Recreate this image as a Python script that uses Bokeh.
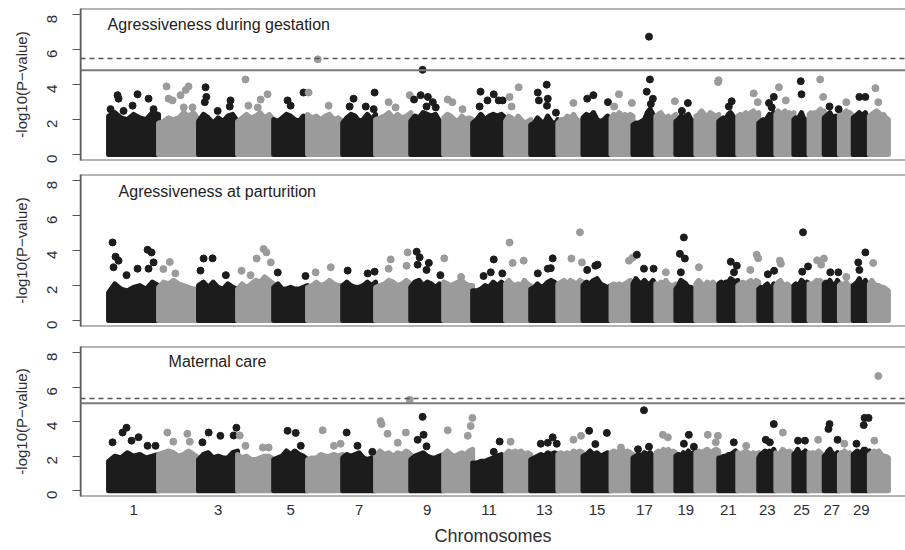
import math
import numpy as np
from bokeh.plotting import figure
from bokeh.layouts import column
from bokeh.models import Range1d, FixedTicker, Span, Label, ColumnDataSource
from bokeh.embed import file_html
from bokeh.resources import INLINE

# ---------------- data ----------------
chromosomes = list(range(1, 31))
chrom_len_mb = [155, 124, 121, 112, 105, 109, 102, 109, 102, 90,
                102, 78, 84, 78, 87, 68, 71, 62, 62, 71,
                59, 65, 53, 56, 47, 47, 47, 43, 50, 59]
tick_chroms = [1, 3, 5, 7, 9, 11, 13, 15, 17, 19, 21, 23, 25, 27, 29]

panel_titles = ["Agressiveness during gestation",
                "Agressiveness at parturition",
                "Maternal care"]

# relative positions (within chromosome) where the top of the dense SNP cloud was read
cloud_rel_pos = [0.0, 0.125, 0.25, 0.375, 0.5, 0.625, 0.75, 0.875, 1.0]

# upper edge of the dense cloud of -log10(P) per chromosome
gest_cloud = [
    [2.2, 2.4, 2.1, 2.0, 2.3, 2.1, 2.0, 2.4, 2.3], [1.8, 1.9, 2.1, 2.0, 2.1, 2.4, 2.2, 2.4, 2.0],
    [1.9, 2.3, 2.1, 1.8, 2.1, 1.9, 2.2, 2.3, 1.9], [1.9, 2.1, 2.3, 2.1, 2.2, 2.4, 2.1, 2.3, 2.0],
    [2.0, 1.9, 2.1, 2.3, 2.2, 2.0, 1.9, 2.2, 2.1], [2.3, 2.1, 2.2, 2.0, 2.2, 2.3, 2.0, 2.1, 1.9],
    [1.8, 2.1, 2.3, 2.2, 1.9, 2.0, 2.3, 2.0, 2.3], [2.0, 2.1, 2.2, 2.4, 2.1, 2.3, 2.1, 2.2, 2.4],
    [1.9, 2.2, 2.1, 2.4, 2.3, 2.2, 2.3, 1.9, 1.8], [2.1, 2.3, 2.2, 2.0, 1.9, 2.2, 2.0, 2.1, 2.0],
    [1.8, 2.0, 2.3, 2.0, 2.2, 2.3, 2.2, 2.3, 2.1], [1.9, 2.2, 2.1, 1.9, 2.2, 2.0, 1.8, 1.9, 2.0],
    [1.7, 1.8, 2.1, 1.9, 1.8, 2.2, 1.9, 1.7, 2.0], [1.8, 2.0, 2.0, 2.2, 2.1, 2.3, 2.0, 1.9, 2.0],
    [2.1, 2.3, 2.2, 2.4, 2.0, 1.9, 2.0, 2.2, 2.0], [2.1, 2.3, 2.2, 2.4, 2.2, 2.3, 2.2, 2.3, 2.2],
    [1.7, 1.8, 1.8, 1.9, 2.0, 2.4, 2.6, 2.3, 2.0], [2.2, 2.3, 2.4, 2.2, 2.1, 2.2, 2.0, 2.2, 2.3],
    [1.9, 2.0, 2.2, 2.1, 2.2, 2.3, 2.0, 1.9, 1.9], [2.2, 2.3, 2.5, 2.3, 2.2, 2.4, 2.3, 2.2, 2.3],
    [1.9, 2.0, 2.1, 2.0, 2.3, 2.4, 2.2, 2.0, 1.9], [2.2, 2.3, 2.2, 2.4, 2.3, 2.4, 2.5, 2.3, 2.4],
    [1.8, 1.9, 2.0, 1.9, 2.1, 2.3, 2.2, 2.4, 2.1], [2.3, 2.5, 2.3, 2.4, 2.5, 2.3, 2.4, 2.3, 2.4],
    [2.0, 2.1, 2.0, 2.2, 2.4, 2.1, 2.0, 1.9, 1.9], [2.3, 2.4, 2.3, 2.4, 2.3, 2.5, 2.6, 2.4, 2.5],
    [2.1, 2.2, 2.3, 2.4, 2.2, 2.1, 2.2, 2.1, 2.3], [2.3, 2.4, 2.3, 2.4, 2.5, 2.3, 2.4, 2.3, 2.2],
    [2.1, 2.2, 2.3, 2.4, 2.2, 2.3, 2.4, 2.1, 2.0], [2.2, 2.3, 2.4, 2.5, 2.4, 2.2, 2.3, 2.1, 2.0],
]
part_cloud = [
    [1.6, 2.1, 1.8, 1.7, 1.9, 2.0, 1.8, 2.2, 2.0], [1.9, 2.2, 2.1, 2.3, 2.1, 2.0, 1.9, 1.8, 1.8],
    [2.0, 2.2, 1.9, 2.2, 1.9, 1.8, 2.1, 1.9, 1.8], [1.8, 2.1, 1.9, 2.1, 2.3, 2.2, 2.5, 2.3, 2.1],
    [1.9, 2.1, 1.8, 1.8, 1.9, 1.8, 1.8, 1.9, 2.0], [1.9, 2.0, 2.2, 2.0, 2.1, 2.3, 2.1, 2.0, 2.0],
    [2.0, 2.2, 2.0, 1.9, 1.9, 2.0, 2.2, 2.0, 2.2], [1.9, 2.0, 2.1, 2.3, 2.2, 2.0, 2.1, 2.3, 2.1],
    [1.9, 2.2, 2.3, 2.0, 2.2, 2.1, 1.9, 2.1, 1.9], [2.2, 2.1, 2.0, 2.1, 2.2, 2.3, 2.1, 2.0, 2.0],
    [1.7, 1.7, 1.8, 2.0, 1.9, 2.2, 2.0, 2.2, 2.0], [2.1, 2.3, 2.1, 2.0, 2.1, 2.0, 2.3, 2.1, 2.0],
    [1.8, 1.9, 2.1, 1.9, 2.0, 2.2, 2.3, 2.2, 1.9], [2.1, 2.2, 2.3, 2.1, 2.3, 2.2, 2.1, 2.3, 2.2],
    [2.0, 2.2, 2.1, 2.3, 2.4, 2.1, 2.0, 1.9, 2.0], [2.0, 2.1, 2.0, 2.1, 2.0, 2.1, 2.2, 2.3, 2.2],
    [2.1, 2.4, 2.2, 2.1, 2.3, 2.1, 2.1, 2.3, 2.0], [2.1, 2.0, 2.2, 2.1, 2.3, 2.1, 2.0, 2.0, 2.1],
    [1.8, 2.0, 2.3, 2.2, 2.1, 1.9, 1.9, 1.8, 1.9], [2.1, 2.3, 2.1, 2.0, 2.2, 2.1, 2.2, 2.0, 1.9],
    [2.1, 2.2, 2.1, 2.2, 2.2, 2.4, 2.3, 2.2, 2.3], [2.0, 2.1, 2.2, 2.1, 2.2, 2.3, 2.1, 2.3, 2.2],
    [1.8, 1.9, 1.8, 2.0, 2.1, 1.9, 1.8, 2.1, 1.9], [2.0, 2.2, 2.3, 2.1, 2.0, 2.1, 2.0, 1.9, 1.9],
    [2.0, 2.1, 2.0, 2.1, 2.3, 2.2, 2.0, 2.2, 2.1], [2.1, 2.0, 2.1, 2.2, 2.3, 2.1, 2.3, 2.1, 2.2],
    [2.1, 2.2, 2.1, 2.3, 2.1, 2.0, 2.1, 2.3, 2.1], [2.0, 2.1, 2.0, 2.1, 2.2, 2.0, 2.0, 1.9, 2.0],
    [2.0, 2.1, 2.2, 2.4, 2.1, 2.0, 2.3, 2.1, 2.0], [2.1, 2.3, 2.1, 2.0, 2.0, 1.9, 1.9, 1.8, 1.7],
]
care_cloud = [
    [1.7, 2.0, 1.9, 2.2, 2.0, 2.1, 1.9, 2.0, 2.1], [2.1, 2.2, 2.3, 2.2, 2.0, 2.1, 2.3, 2.1, 1.9],
    [1.8, 2.1, 2.2, 1.9, 2.0, 1.9, 1.9, 2.2, 2.3], [2.1, 1.9, 2.0, 1.8, 1.8, 1.9, 2.0, 2.0, 1.8],
    [1.8, 1.9, 2.0, 2.3, 2.1, 2.3, 2.1, 2.0, 1.8], [1.8, 1.9, 1.9, 2.1, 2.0, 2.0, 2.1, 2.0, 2.1],
    [1.9, 2.1, 2.0, 2.1, 2.2, 1.9, 1.8, 1.9, 1.7], [2.0, 2.3, 2.1, 2.2, 2.0, 2.2, 2.1, 2.3, 2.1],
    [1.8, 2.0, 2.1, 2.2, 2.0, 1.9, 1.9, 2.0, 2.1], [2.1, 2.3, 2.1, 2.0, 2.1, 2.2, 2.1, 2.3, 2.4],
    [1.6, 1.6, 1.7, 1.7, 1.8, 1.9, 2.0, 2.1, 1.9], [2.1, 2.3, 2.2, 2.3, 2.2, 2.3, 2.1, 2.2, 2.1],
    [1.8, 1.9, 2.0, 2.1, 2.0, 2.2, 2.1, 2.2, 2.1], [2.1, 2.2, 2.1, 2.2, 2.1, 2.3, 2.2, 2.3, 2.2],
    [2.0, 2.1, 2.3, 2.1, 2.2, 2.0, 2.1, 2.2, 2.0], [2.2, 2.3, 2.2, 2.3, 2.4, 2.2, 2.3, 2.2, 2.1],
    [1.9, 2.0, 2.1, 2.0, 2.2, 2.1, 2.2, 2.0, 2.0], [2.2, 2.3, 2.2, 2.4, 2.3, 2.4, 2.2, 2.3, 2.2],
    [2.0, 2.1, 2.0, 2.2, 2.1, 2.3, 2.1, 2.2, 2.0], [2.2, 2.3, 2.2, 2.3, 2.4, 2.2, 2.3, 2.4, 2.3],
    [1.9, 1.9, 2.0, 2.0, 2.1, 2.1, 2.2, 2.3, 2.1], [2.2, 2.1, 2.2, 2.3, 2.2, 2.1, 2.2, 2.1, 2.2],
    [1.9, 2.1, 2.2, 2.3, 2.2, 2.3, 2.2, 2.4, 2.1], [2.2, 2.1, 2.2, 2.4, 2.3, 2.2, 2.3, 2.2, 2.1],
    [2.1, 2.2, 2.4, 2.2, 2.1, 2.2, 2.3, 2.1, 2.1], [2.2, 2.1, 2.2, 2.1, 2.2, 2.3, 2.2, 2.1, 2.0],
    [2.0, 2.1, 2.3, 2.4, 2.2, 2.1, 2.1, 2.2, 2.0], [2.1, 2.2, 2.1, 2.3, 2.2, 2.1, 2.2, 2.1, 2.1],
    [2.1, 2.2, 2.3, 2.2, 2.2, 2.4, 2.4, 2.2, 2.3], [2.1, 2.2, 2.3, 2.2, 2.3, 2.1, 2.0, 2.0, 1.9],
]

# SNPs standing above the cloud: relative position in chromosome and -log10(P)
gest_hit_pos = [
    [0.04, 0.18, 0.2, 0.3, 0.48, 0.58, 0.8, 0.9], [0.2, 0.25, 0.35, 0.55, 0.68, 0.75, 0.63, 0.85],
    [0.18, 0.2, 0.16, 0.82, 0.8, 0.49], [0.22, 0.83, 0.64, 0.3, 0.56], [0.41, 0.5, 0.88],
    [0.03, 0.29, 0.6], [0.33, 0.21, 0.7, 0.97, 0.94], [0.37, 0.57, 0.97],
    [0.36, 0.1, 0.3, 0.52, 0.67, 0.48, 0.76], [0.14, 0.3, 0.65],
    [0.24, 0.64, 0.45, 0.21, 0.79, 0.91], [0.52, 0.16, 0.24],
    [0.59, 0.26, 0.63, 0.3, 0.6, 0.93], [0.62], [0.15, 0.37, 0.89],
    [0.36, 0.95, 0.14], [0.7, 0.74, 0.6, 0.87, 0.78], [0.95], [0.6, 0.3], [0.97, 0.99],
    [0.68, 0.53], [0.76, 0.95], [0.88, 0.6, 0.76], [0.17, 0.55], [0.45, 0.5],
    [0.73, 0.93], [0.35, 0.95], [0.5], [0.38, 0.75], [0.32, 0.47],
]
gest_hit_val = [
    [2.6, 3.4, 3.2, 2.5, 2.8, 3.45, 3.2, 2.6], [3.9, 3.2, 3.1, 3.4, 3.7, 3.9, 2.7, 2.7],
    [3.85, 3.3, 3.0, 3.1, 2.75, 2.5], [4.3, 3.45, 3.15, 2.8, 2.7], [3.1, 2.8, 3.55],
    [3.55, 5.45, 2.8], [3.2, 2.75, 2.75, 3.55, 2.6], [3.0, 2.7, 3.4],
    [4.85, 3.15, 3.4, 3.3, 3.0, 2.75, 2.7], [3.15, 3.0, 2.6],
    [3.6, 3.45, 3.1, 2.75, 3.1, 3.1], [3.85, 3.3, 2.75],
    [4.0, 3.55, 3.2, 3.1, 2.8, 2.4], [2.95], [3.2, 3.4, 3.0],
    [3.45, 2.95, 2.75], [6.75, 4.3, 3.6, 3.2, 2.9], [3.05], [2.95, 2.5], [4.15, 4.25],
    [3.05, 2.75], [3.5, 3.0], [3.3, 2.95, 2.7], [3.85, 3.1], [4.2, 3.45],
    [4.3, 3.3], [2.75, 2.6], [3.0], [3.3, 3.3], [3.8, 3.0],
]
part_hit_pos = [
    [0.08, 0.14, 0.2, 0.1, 0.78, 0.86, 0.9, 0.8, 0.58, 0.36], [0.28, 0.12, 0.42],
    [0.13, 0.36, 0.05, 0.7], [0.72, 0.8, 0.53, 0.92, 0.11, 0.36], [0.12, 0.94],
    [0.23, 0.66], [0.15, 0.76, 0.97], [0.43, 0.37, 0.91, 0.88],
    [0.18, 0.27, 0.21, 0.55, 0.48, 0.9], [0.02, 0.6], [0.64, 0.55, 0.9, 0.33],
    [0.16, 0.28, 0.72], [0.81, 0.74, 0.63, 0.26], [0.88, 0.54, 0.96], [0.15, 0.44, 0.52],
    [0.82, 0.98], [0.17, 0.48, 0.9], [0.5], [0.4, 0.2, 0.45, 0.25], [0.13],
    [0.63, 0.95, 0.8], [0.9, 0.97, 0.6], [0.53, 0.9], [0.22, 0.28], [0.6, 0.93, 0.55],
    [0.53, 0.8, 0.98], [0.4, 0.93], [0.5], [0.75, 0.31, 0.38], [0.2],
]
part_hit_val = [
    [4.47, 3.65, 3.43, 3.05, 4.05, 3.9, 3.33, 2.97, 2.97, 2.6], [3.35, 2.95, 2.7],
    [3.55, 3.56, 2.86, 2.6], [4.1, 3.9, 3.55, 3.33, 2.85, 2.6], [2.75, 2.55],
    [2.76, 3.05], [2.86, 2.7, 2.8], [3.5, 2.97, 3.9, 3.14],
    [3.94, 3.62, 3.2, 3.3, 2.9, 2.6], [3.56, 2.5], [3.5, 2.76, 2.7, 2.55],
    [4.47, 3.3, 3.43], [3.56, 3.0, 2.97, 2.7], [5.05, 3.55, 3.33], [2.9, 3.14, 3.2],
    [3.43, 3.6], [3.77, 2.97, 2.97], [2.76], [4.76, 3.82, 3.55, 2.76], [3.05],
    [3.37, 3.14, 2.76], [3.77, 3.56, 2.9], [2.65, 2.85], [3.43, 3.25], [5.05, 3.1, 2.8],
    [3.45, 3.2, 3.55], [2.76, 2.76], [2.5], [3.9, 3.33, 2.9], [3.3],
]
care_hit_pos = [
    [0.36, 0.28, 0.08, 0.6, 0.78, 0.94, 0.46], [0.22, 0.37, 0.72, 0.78],
    [0.26, 0.56, 0.1, 0.97, 0.9], [0.06, 0.22, 0.7, 0.86], [0.41, 0.65, 0.8],
    [0.43, 0.94, 0.75], [0.12, 0.45, 0.9], [0.14, 0.17, 0.34, 0.63, 0.86, 0.97],
    [0.36, 0.39, 0.21, 0.48], [0.14, 0.83, 0.93, 0.99], [0.82, 0.64], [0.2],
    [0.37, 0.63, 0.81, 0.96], [0.62, 0.92], [0.22, 0.85, 0.44], [0.45],
    [0.48, 0.7, 0.22], [0.35, 0.6], [0.65, 0.4, 0.9], [0.52, 0.96, 0.87], [0.79],
    [0.4], [0.88, 0.41, 0.65], [0.39], [0.27, 0.73], [0.6], [0.35, 0.28, 0.88],
    [0.36], [0.7, 0.95, 0.65, 0.2], [0.47, 0.26],
]
care_hit_val = [
    [3.65, 3.37, 2.8, 3.1, 2.6, 2.6, 2.9], [3.37, 2.84, 3.3, 2.84],
    [3.37, 3.18, 2.8, 3.65, 3.2], [3.2, 2.6, 2.5, 2.5], [3.47, 3.35, 2.6],
    [3.5, 2.72, 2.6], [3.37, 2.6, 2.25], [4.03, 3.86, 3.3, 2.78, 3.37, 5.27],
    [4.28, 3.24, 2.95, 2.57], [3.5, 3.18, 3.75, 4.22], [2.85, 2.25], [2.84],
    [2.72, 2.78, 3.09, 2.72], [2.95, 3.18], [3.47, 3.35, 2.7], [2.5],
    [4.66, 2.55, 2.4], [3.24, 3.09], [3.24, 2.72, 2.55], [3.24, 3.18, 2.8], [2.8],
    [2.6], [3.86, 2.95, 2.8], [3.37], [2.9, 2.9], [2.95], [3.86, 3.58, 2.95],
    [2.72], [4.22, 4.22, 3.8, 2.72], [6.65, 2.9],
]

# significance thresholds (-log10 P): (dashed, solid)
gest_thresholds = (5.5, 4.83)
part_thresholds = None
care_thresholds = (5.35, 5.07)

# ---------------- styling / layout ----------------
BLACK = "#1c1c1c"
GRAY = "#9b9b9b"
FRAME = "#6a6a6a"
TEXT = "#2e2e33"
FONT = "Liberation Sans"

lens = np.array(chrom_len_mb, dtype=float)
starts = np.concatenate([[0.0], np.cumsum(lens)[:-1]])
mids = starts + lens / 2.0
X_RANGE = (-87.0, 2471.0)
Y_RANGE = (-0.34, 8.36)


def make_panel(title, cloud, hit_pos, hit_val, thresholds, height, b_top, b_bottom,
               show_x, title_xy):
    p = figure(width=905, height=height, output_backend="svg", toolbar_location=None,
               x_range=Range1d(*X_RANGE), y_range=Range1d(*Y_RANGE),
               min_border_left=80, min_border_right=0, min_border_top=b_top,
               min_border_bottom=b_bottom)
    p.outline_line_color = None
    p.grid.visible = False
    p.background_fill_color = "white"
    p.border_fill_color = "white"

    # dense clouds + isolated SNPs
    xs, ys, cols = [], [], []
    px, py, pc = [], [], []
    for i, c in enumerate(chromosomes):
        col = BLACK if c % 2 == 1 else GRAY
        s, L = starts[i], lens[i]
        xs.append([s + r * L for r in cloud_rel_pos] + [s + L, s])
        ys.append(list(cloud[i]) + [0.0, 0.0])
        cols.append(col)
        for r, v in zip(hit_pos[i], hit_val[i]):
            px.append(s + r * L)
            py.append(v)
            pc.append(col)
    p.patches(xs="xs", ys="ys", fill_color="c", line_color="c", line_width=5,
              line_join="round",
              source=ColumnDataSource(dict(xs=xs, ys=ys, c=cols)))
    p.scatter(x="x", y="y", color="c", size=7,
              source=ColumnDataSource(dict(x=px, y=py, c=pc)))

    if thresholds is not None:
        p.add_layout(Span(location=thresholds[0], dimension="width", line_color="#555555",
                          line_width=1.5, line_dash="5 4"))
        p.add_layout(Span(location=thresholds[1], dimension="width", line_color="#7a7a7a",
                          line_width=2))

    # frame (top, bottom, left)
    for loc in Y_RANGE:
        p.add_layout(Span(location=loc, dimension="width", line_color=FRAME, line_width=2))
    p.add_layout(Span(location=X_RANGE[0], dimension="height", line_color=FRAME, line_width=2))

    p.add_layout(Label(x=title_xy[0], y=title_xy[1], text=title, text_font=FONT,
                       text_font_size="16px", text_color="#222222"))

    ya = p.yaxis[0]
    ya.ticker = FixedTicker(ticks=[0, 2, 4, 6, 8])
    ya.minor_tick_line_color = None
    ya.major_tick_out = 8
    ya.major_tick_in = 0
    ya.major_tick_line_color = "#555555"
    ya.axis_line_color = "#555555"
    ya.axis_line_width = 1.5
    ya.major_label_orientation = math.pi / 2
    ya.major_label_standoff = 20
    ya.major_label_text_font = FONT
    ya.major_label_text_font_size = "15px"
    ya.major_label_text_color = TEXT
    ya.axis_label = "-log10(P\u2212value)"
    ya.axis_label_text_font = FONT
    ya.axis_label_text_font_size = "15px"
    ya.axis_label_text_font_style = "normal"
    ya.axis_label_text_color = TEXT
    ya.axis_label_standoff = 10

    xa = p.xaxis[0]
    if show_x:
        xa.ticker = FixedTicker(ticks=[float(mids[c - 1]) for c in tick_chroms])
        xa.major_label_overrides = {float(mids[c - 1]): str(c) for c in tick_chroms}
        xa.axis_line_color = None
        xa.major_tick_line_color = None
        xa.minor_tick_line_color = None
        xa.major_tick_out = 0
        xa.major_tick_in = 0
        xa.major_label_standoff = 8
        xa.major_label_text_font = FONT
        xa.major_label_text_font_size = "15px"
        xa.major_label_text_color = TEXT
        xa.axis_label = "Chromosomes"
        xa.axis_label_text_font = FONT
        xa.axis_label_text_font_size = "18px"
        xa.axis_label_text_font_style = "normal"
        xa.axis_label_text_color = TEXT
        xa.axis_label_standoff = 8
    else:
        xa.visible = False
    return p


p1 = make_panel(panel_titles[0], gest_cloud, gest_hit_pos, gest_hit_val, gest_thresholds,
                166, 8, 6, False, (-3, 6.96))
p2 = make_panel(panel_titles[1], part_cloud, part_hit_pos, part_hit_val, part_thresholds,
                172, 8, 12, False, (31, 6.9))
p3 = make_panel(panel_titles[2], care_cloud, care_hit_pos, care_hit_val, care_thresholds,
                212, 8, 54, True, (186, 7.0))

layout = column(p1, p2, p3, spacing=0)
open("out.html", "w").write(file_html(layout, INLINE))
